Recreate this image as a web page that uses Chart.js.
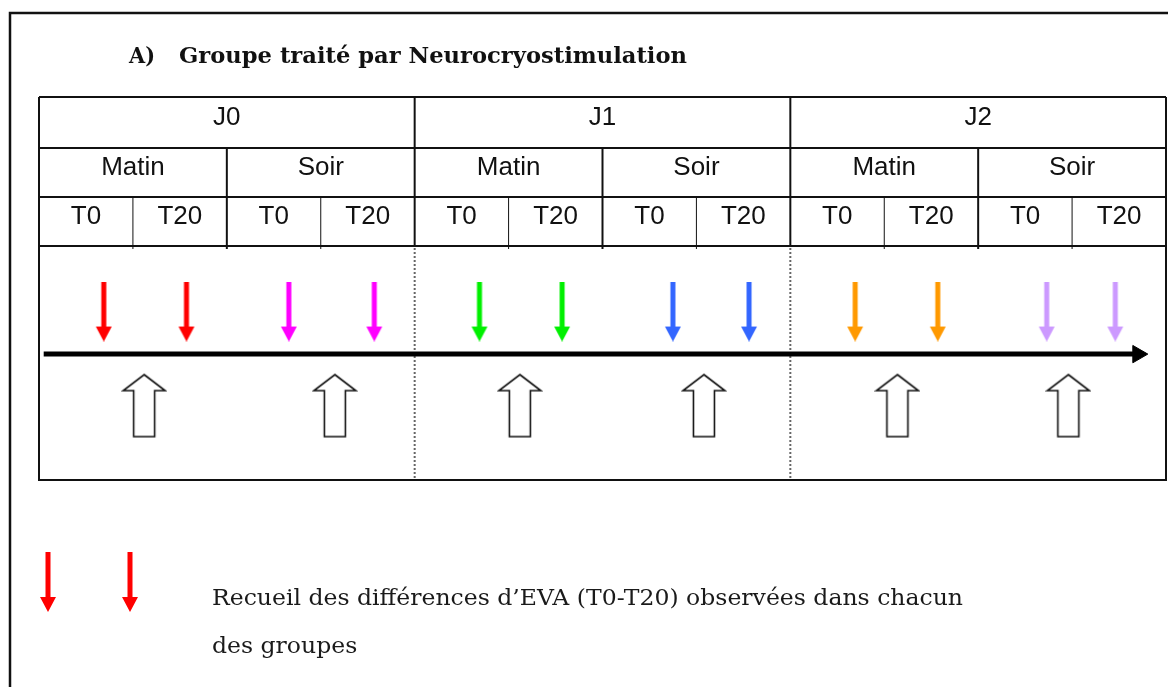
<!DOCTYPE html>
<html>
<head>
<meta charset="utf-8">
<script src="https://cdn.jsdelivr.net/npm/chart.js@4.4.1/dist/chart.umd.min.js"></script>
<style>
  body { margin: 0; background: #fff; }
  canvas { display: block; }
</style>
</head>
<body>
<canvas id="c" width="1168" height="687"></canvas>
<script>
// table header labels
const days = ["J0", "J1", "J2"];
const periods = ["Matin", "Soir"];
const times = ["T0", "T20"];

// coloured arrows (one pair per session), x in T-slots, y on a 0..10 body scale
const measureColors = ["#ff0000", "#ff00ff", "#00f000", "#3366ff", "#ff9900", "#cc99ff"];
const measureX = [
  [0.69, 1.57],
  [2.66, 3.57],
  [4.69, 5.57],
  [6.75, 7.56],
  [8.69, 9.57],
  [10.73, 11.46],
];
const measureY = 7.2;

// hollow arrows (treatment)
const treatX = [1.12, 3.15, 5.12, 7.08, 9.14, 10.96];
const treatY = 3.18;

// time axis
const timelineX = [0.05, 11.7];
const timelineY = 5.38;

const title = "Groupe traité par Neurocryostimulation";
const legendLines = [
  "Recueil des différences d\u2019EVA (T0-T20) observées dans chacun",
  "des groupes",
];

function downArrow(color) {
  const c = document.createElement("canvas");
  c.width = 18;
  c.height = 60;
  const g = c.getContext("2d");
  g.fillStyle = color;
  g.fillRect(6.5, 0, 5, 46);
  g.beginPath();
  g.moveTo(1, 45);
  g.lineTo(17, 45);
  g.lineTo(9, 60);
  g.closePath();
  g.fill();
  return c;
}

function upArrow() {
  const c = document.createElement("canvas");
  c.width = 46;
  c.height = 66;
  const g = c.getContext("2d");
  g.beginPath();
  g.moveTo(23, 2);
  g.lineTo(44, 18);
  g.lineTo(33.5, 18);
  g.lineTo(33.5, 64);
  g.lineTo(12.5, 64);
  g.lineTo(12.5, 18);
  g.lineTo(2, 18);
  g.closePath();
  g.fillStyle = "#fff";
  g.fill();
  g.lineWidth = 1.6;
  g.strokeStyle = "#111";
  g.stroke();
  return c;
}

const arrowImgs = measureColors.map(downArrow);
const treatImg = upArrow();

function fitText(ctx, text, x, y, w) {
  const m = ctx.measureText(text).width;
  ctx.save();
  ctx.translate(x, y);
  ctx.scale(w / m, 1);
  ctx.fillText(text, 0, 0);
  ctx.restore();
  return w / m;
}

const decor = {
  id: "decor",
  beforeDraw(chart) {
    const ctx = chart.ctx;
    const xs = chart.scales.x;
    const area = chart.chartArea;
    const px = (v) => xs.getPixelForValue(v);
    ctx.save();
    ctx.fillStyle = "#fff";
    ctx.fillRect(0, 0, chart.width, chart.height);

    // page frame
    ctx.strokeStyle = "#111";
    ctx.lineWidth = 2.5;
    ctx.beginPath();
    ctx.moveTo(10, 687);
    ctx.lineTo(10, 13);
    ctx.lineTo(1168, 13);
    ctx.stroke();

    // title
    ctx.fillStyle = "#111";
    ctx.font = "bold 23px 'DejaVu Serif'";
    ctx.textBaseline = "alphabetic";
    fitText(ctx, "A)", 129, 63, 26);
    fitText(ctx, title, 179, 63, 508);

    // header table
    const rows = [97, 148, 197, 246];
    ctx.lineWidth = 2;
    ctx.strokeStyle = "#111";
    rows.forEach((y) => {
      ctx.beginPath();
      ctx.moveTo(area.left, y);
      ctx.lineTo(area.right, y);
      ctx.stroke();
    });
    // verticals
    for (let i = 0; i <= 12; i++) {
      const x = px(i);
      let top = rows[2];
      ctx.lineWidth = 1;
      if (i % 2 === 0) { top = rows[1]; ctx.lineWidth = 2; }
      if (i % 4 === 0) top = rows[0];
      ctx.beginPath();
      ctx.moveTo(x, top);
      ctx.lineTo(x, rows[3] + (i % 4 === 0 ? 0 : 3));
      ctx.stroke();
    }

    ctx.font = "26px 'Liberation Sans'";
    ctx.textAlign = "center";
    ctx.fillStyle = "#111";
    days.forEach((d, i) => {
      ctx.fillText(d, (px(i * 4) + px(i * 4 + 4)) / 2, 125);
      periods.forEach((p, j) => {
        const s = i * 4 + j * 2;
        ctx.fillText(p, (px(s) + px(s + 2)) / 2, 175);
        times.forEach((t, k) => {
          ctx.fillText(t, (px(s + k) + px(s + k + 1)) / 2, 224);
        });
      });
    });

    // body frame
    ctx.lineWidth = 2;
    ctx.strokeStyle = "#111";
    ctx.beginPath();
    ctx.moveTo(area.left, area.top);
    ctx.lineTo(area.left, area.bottom);
    ctx.lineTo(area.right, area.bottom);
    ctx.lineTo(area.right, area.top);
    ctx.stroke();

    // day separators (dashed)
    ctx.strokeStyle = "#666";
    ctx.lineWidth = 2;
    ctx.setLineDash([2, 2]);
    [4, 8].forEach((v) => {
      ctx.beginPath();
      ctx.moveTo(px(v), area.top + 2);
      ctx.lineTo(px(v), area.bottom);
      ctx.stroke();
    });
    ctx.setLineDash([]);

    // legend
    ctx.drawImage(arrowImgs[0], 48 - 9, 552);
    ctx.drawImage(arrowImgs[0], 130 - 9, 552);
    ctx.textAlign = "left";
    ctx.fillStyle = "#1a1a1a";
    ctx.font = "23px 'DejaVu Serif'";
    const k = fitText(ctx, legendLines[0], 212, 605, 751);
    const w2 = ctx.measureText(legendLines[1]).width * k;
    fitText(ctx, legendLines[1], 212, 653, w2);
    ctx.restore();
  },
};

const datasets = [
  {
    type: "line",
    data: timelineX.map((x) => ({ x: x, y: timelineY })),
    borderColor: "#000",
    borderWidth: 5,
    borderCapStyle: "butt",
    pointRadius: [0, 10],
    pointStyle: "triangle",
    pointRotation: 90,
    pointBackgroundColor: "#000",
    pointBorderColor: "#000",
    pointBorderWidth: 1,
    clip: false,
  },
  {
    data: treatX.map((x) => ({ x: x, y: treatY })),
    pointStyle: treatImg,
    pointRadius: 20,
    clip: false,
  },
];
measureX.forEach((pair, i) => {
  datasets.push({
    data: pair.map((x) => ({ x: x, y: measureY })),
    pointStyle: arrowImgs[i],
    pointRadius: 10,
    clip: false,
  });
});

new Chart(document.getElementById("c"), {
  type: "scatter",
  data: { datasets: datasets },
  options: {
    responsive: false,
    animation: false,
    events: [],
    layout: {
      autoPadding: false,
      padding: { left: 39, right: 2, top: 246, bottom: 207 },
    },
    scales: {
      x: { type: "linear", min: 0, max: 12, display: false },
      y: { type: "linear", min: 0, max: 10, display: false },
    },
    plugins: {
      legend: { display: false },
      tooltip: { enabled: false },
    },
  },
  plugins: [decor],
});
</script>
</body>
</html>
